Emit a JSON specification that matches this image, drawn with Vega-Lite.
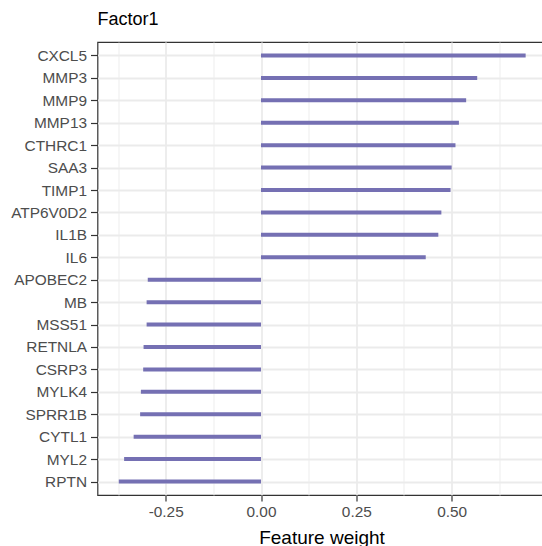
{
  "$schema": "https://vega.github.io/schema/vega-lite/v6.json",
  "autosize": {"type": "none"},
  "padding": {"left": 97.5, "top": 42, "right": -4, "bottom": 51},
  "width": 448.5,
  "height": 453,
  "background": "white",
  "title": {
    "text": "Factor1",
    "anchor": "start",
    "frame": "group",
    "font": "Liberation Sans",
    "fontSize": 18,
    "fontWeight": "normal",
    "color": "#000000",
    "offset": 13
  },
  "data": {
    "values": [
      {"gene": "CXCL5", "weight": 0.694},
      {"gene": "MMP3", "weight": 0.567},
      {"gene": "MMP9", "weight": 0.538},
      {"gene": "MMP13", "weight": 0.519},
      {"gene": "CTHRC1", "weight": 0.510},
      {"gene": "SAA3", "weight": 0.500},
      {"gene": "TIMP1", "weight": 0.497},
      {"gene": "ATP6V0D2", "weight": 0.473},
      {"gene": "IL1B", "weight": 0.465},
      {"gene": "IL6", "weight": 0.432},
      {"gene": "APOBEC2", "weight": -0.297},
      {"gene": "MB", "weight": -0.300},
      {"gene": "MSS51", "weight": -0.300},
      {"gene": "RETNLA", "weight": -0.308},
      {"gene": "CSRP3", "weight": -0.309},
      {"gene": "MYLK4", "weight": -0.315},
      {"gene": "SPRR1B", "weight": -0.317},
      {"gene": "CYTL1", "weight": -0.334},
      {"gene": "MYL2", "weight": -0.359},
      {"gene": "RPTN", "weight": -0.373}
    ]
  },
  "mark": {"type": "rule", "color": "#7570B3", "strokeWidth": 4, "strokeCap": "butt"},
  "encoding": {
    "x": {
      "field": "weight",
      "type": "quantitative",
      "scale": {"domain": [-0.4288, 0.7474], "nice": false, "zero": false},
      "axis": {
        "orient": "bottom",
        "values": [-0.375, -0.25, -0.125, 0, 0.125, 0.25, 0.375, 0.5, 0.625],
        "labelExpr": "abs(datum.value * 4 - round(datum.value * 4)) < 0.001 ? replace(format(datum.value, '.2f'), '−', '-') : ''",
        "grid": true,
        "gridColor": "#EBEBEB",
        "gridWidth": {"condition": {"test": "abs(datum.value * 4 - round(datum.value * 4)) < 0.001", "value": 1.8}, "value": 0.9},
        "domain": false,
        "ticks": true,
        "tickColor": "#333333",
        "tickWidth": 1.2,
        "tickOpacity": {"condition": {"test": "abs(datum.value * 4 - round(datum.value * 4)) < 0.001", "value": 1}, "value": 0},
        "tickSize": 6,
        "labelFont": "Liberation Sans",
        "labelFontSize": 15.4,
        "labelColor": "#4D4D4D",
        "labelPadding": 3,
        "labelFlush": false,
        "labelOverlap": false,
        "title": "Feature weight",
        "titleFont": "Liberation Sans",
        "titleFontSize": 19,
        "titleFontWeight": "normal",
        "titleColor": "#000000",
        "titleBaseline": "alphabetic",
        "titleX": 224,
        "titleY": 48
      }
    },
    "x2": {"datum": 0},
    "y": {
      "field": "gene",
      "type": "ordinal",
      "sort": null,
      "scale": {"type": "point", "padding": 0.6},
      "axis": {
        "orient": "left",
        "grid": true,
        "gridColor": "#EBEBEB",
        "gridWidth": 1.8,
        "domain": false,
        "ticks": true,
        "tickColor": "#333333",
        "tickWidth": 1.2,
        "tickSize": 7,
        "labelFont": "Liberation Sans",
        "labelFontSize": 15.4,
        "labelColor": "#4D4D4D",
        "labelPadding": 4,
        "title": null
      }
    }
  },
  "config": {"view": {"stroke": "#333333", "strokeWidth": 1.2}}
}
